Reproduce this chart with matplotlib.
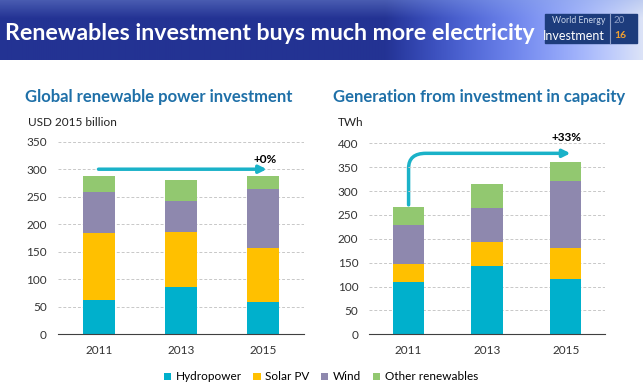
import matplotlib.pyplot as plt
import numpy as np
from matplotlib.patches import FancyArrowPatch, Rectangle
from matplotlib.path import Path

years = ['2011', '2013', '2015']
series = ['Hydropower', 'Solar PV', 'Wind', 'Other renewables']
colors = ['#00b0cc', '#ffc000', '#8e88ae', '#92c870']

# USD 2015 billion
inv_hydro = [62, 86, 59]
inv_solar = [122, 99, 97]
inv_wind = [74, 58, 108]
inv_other = [29, 37, 24]

# TWh
gen_hydro = [110, 144, 116]
gen_solar = [38, 50, 64]
gen_wind = [80, 70, 140]
gen_other = [38, 51, 40]

W, H = 643, 389
fig = plt.figure(figsize=(W / 100, H / 100), dpi=100)
fig.patch.set_facecolor('white')

def fx(px):
    return px / W

def fy(py):
    return 1 - py / H

# header banner
ban = fig.add_axes([0, fy(60), 1, 60 / H])
gx = np.linspace(0, 1, 300)
gy = np.linspace(0, 1, 60)
X, Y = np.meshgrid(gx, gy)
dark = np.array([0.14, 0.20, 0.58])
mid = np.array([0.30, 0.40, 0.78])
light = np.array([0.86, 0.89, 0.97])
t = np.clip((X - 0.6) / 0.4, 0, 1)[..., None]
img = dark * (1 - t) + light * t ** 2 + mid * (t - t ** 2) * 2
img = img / np.maximum(img.max(axis=2, keepdims=True), 1)
topfade = np.clip(1 - Y / 0.3, 0, 1)[..., None] * 0.35
img = img * (1 - topfade) + np.array([0.55, 0.65, 0.9]) * topfade
ban.imshow(np.clip(img, 0, 1), extent=[0, 1, 0, 1], aspect='auto', origin='upper')
ban.set_xlim(0, 1)
ban.set_ylim(0, 1)
ban.axis('off')
ban.add_patch(Rectangle((545 / W, 1 - 43 / 60), 92 / W, 29 / 60, color='#1d3c7c', zorder=1))
ban.text(5 / W, 0.45, 'Renewables investment buys much more electricity',
         color='white', fontsize=16.7, fontweight='bold', family='Lato', va='center', zorder=5)
ban.text(605 / W, 0.66, 'World Energy', color='#c8d4ea', fontsize=6.3, ha='right', va='center', family='Lato')
ban.text(605 / W, 0.40, 'Investment', color='white', fontsize=9, ha='right', va='center', family='Lato')
ban.plot([610 / W, 610 / W], [0.28, 0.76], color='#8fa0c8', lw=0.8)
ban.text(614 / W, 0.66, '20', color='#8fa0c8', fontsize=7, va='center', family='Lato')
ban.text(614 / W, 0.40, '16', color='#f0a030', fontsize=7.5, fontweight='bold', va='center', family='Lato')

title_color = '#1f70a8'
fig.text(fx(25), fy(97), 'Global renewable power investment', color=title_color,
         fontsize=12, fontweight='bold', family='Lato', va='center')
fig.text(fx(333), fy(97), 'Generation from investment in capacity', color=title_color,
         fontsize=12, fontweight='bold', family='Lato', va='center')
fig.text(fx(28), fy(122), 'USD 2015 billion', color='#222222', fontsize=8.5, family='Lato', va='center')
fig.text(fx(338), fy(122), 'TWh', color='#222222', fontsize=8.5, family='Lato', va='center')


def stacked(ax, data, ymax):
    x = np.arange(len(years))
    bottom = np.zeros(len(years))
    for vals, c, name in zip(data, colors, series):
        ax.bar(x, vals, 0.4, bottom=bottom, color=c, label=name, zorder=2)
        bottom += np.array(vals)
    ax.set_xlim(-0.5, 2.5)
    ax.set_ylim(0, ymax)
    ax.set_yticks(np.arange(0, ymax + 1, 50))
    ax.set_xticks(x)
    ax.set_xticklabels(years)
    ax.yaxis.grid(True, linestyle=(0, (3, 2)), color='#c8c8c8', lw=0.7, zorder=0)
    for s in ['top', 'right', 'left']:
        ax.spines[s].set_visible(False)
    ax.spines['bottom'].set_color('#404040')
    ax.tick_params(length=0, labelsize=8.5, labelcolor='#333333', pad=8)
    for lab in ax.get_xticklabels() + ax.get_yticklabels():
        lab.set_family('Lato')


arrow_color = '#1ab2c8'

ax1 = fig.add_axes([fx(58), fy(334.3), fx(246), 192.6 / H])
stacked(ax1, [inv_hydro, inv_solar, inv_wind, inv_other], 350)
ax1.annotate('', xy=(2.08, 300), xytext=(-0.04, 300),
             arrowprops=dict(arrowstyle='-|>', color=arrow_color, lw=2.5, mutation_scale=11))
ax1.text(2.02, 318, '+0%', fontsize=8.5, fontweight='bold', ha='center', va='center', family='Lato')

ax2 = fig.add_axes([fx(369.3), fy(334.3), fx(235.7), 191 / H])
stacked(ax2, [gen_hydro, gen_solar, gen_wind, gen_other], 400)
path = Path([(0, 271), (0, 348), (0, 379), (0.22, 379), (2.06, 379)],
            [Path.MOVETO, Path.LINETO, Path.CURVE3, Path.CURVE3, Path.LINETO])
ax2.add_patch(FancyArrowPatch(path=path, arrowstyle='-|>', color=arrow_color, lw=2.5,
                              mutation_scale=11, transform=ax2.transData))
ax2.text(2.01, 413, '+33%', fontsize=8.5, fontweight='bold', ha='center', va='center',
         family='Lato', clip_on=False)

handles, labels = ax1.get_legend_handles_labels()
fig.legend(handles, labels, loc='center', bbox_to_anchor=(fx(321), fy(377)), ncol=4,
           frameon=False, handlelength=0.6, handleheight=0.6, handletextpad=0.4,
           columnspacing=1.0, prop={'family': 'Lato', 'size': 8.5})

fig.savefig('out.png', dpi=100)
